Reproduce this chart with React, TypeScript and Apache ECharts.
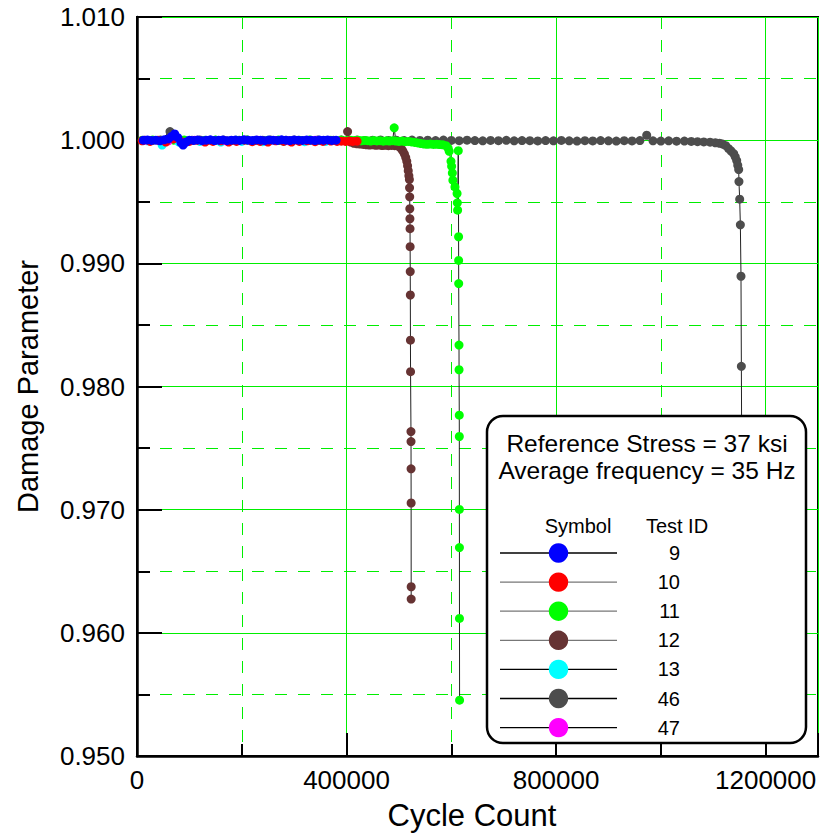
import React, { useEffect, useRef } from 'react';
import * as echarts from 'echarts';

// Axis ranges
const xMin = 0;
const xMax = 1300000;
const yMin = 0.95;
const yMax = 1.01;

// Legend content
const testIds = ['9', '10', '11', '12', '13', '46', '47'];
const testColors = ['#0000ff', '#ff0000', '#00ff00', '#663333', '#00ffff', '#4d4d4d', '#ff00ff'];
const legendLineColors = ['#000000', '#777777', '#777777', '#777777', '#000000', '#000000', '#000000'];
const noteLines = ['Reference Stress = 37 ksi', 'Average frequency = 35 Hz'];

// [cycle count, damage parameter]
const test9: [number, number][] = [
  [12000, 1.0], [20000, 1.00002], [28000, 0.99998], [36000, 1.0], [44000, 0.99995], [52000, 1.00003],
  [60000, 1.0001], [66000, 1.0003], [72000, 1.0005], [78000, 1.0002], [84000, 0.9998], [88000, 0.9996],
  [94000, 0.99985], [100000, 1.0], [108000, 0.99998], [116000, 1.00002], [124000, 0.99996], [132000, 1.0],
  [140000, 1.00003], [148000, 0.99997], [156000, 1.0], [164000, 1.00002], [172000, 0.99996], [180000, 1.0],
  [188000, 1.00001], [196000, 0.99998], [204000, 1.00003], [212000, 1.0], [220000, 0.99997], [228000, 1.00002],
  [236000, 1.0], [244000, 0.99996], [252000, 1.00002], [260000, 1.0], [268000, 0.99998], [276000, 1.00003],
  [284000, 1.0], [292000, 0.99997], [300000, 1.00002], [308000, 1.0], [316000, 0.99998], [324000, 1.00002],
  [332000, 1.0], [340000, 0.99997], [348000, 1.00001], [356000, 1.0], [364000, 1.00002], [372000, 0.99998],
  [380000, 1.0],
];

const test10: [number, number][] = [
  [10000, 0.99995], [25000, 0.9999], [40000, 1.0], [55000, 0.99985], [70000, 1.0001], [85000, 0.99988],
  [100000, 0.9999], [115000, 1.0], [130000, 0.99985], [145000, 0.9999], [160000, 0.99995], [175000, 0.99985],
  [190000, 0.9999], [205000, 1.0], [220000, 0.99988], [235000, 0.9999], [250000, 0.99985], [265000, 0.99995],
  [280000, 0.9999], [295000, 0.99985], [310000, 0.9999], [325000, 0.99995], [340000, 0.99988], [355000, 0.9999],
  [370000, 0.99993], [382000, 0.9999], [390000, 0.99992], [398000, 0.9999], [405000, 0.99993], [412000, 0.9999],
  [420000, 0.99992],
];

const test11: [number, number][] = [
  [10000, 1.0], [30000, 1.00002], [50000, 0.99998], [70000, 1.0], [90000, 1.00002], [110000, 0.99998],
  [130000, 1.0], [150000, 1.00001], [170000, 0.99998], [190000, 1.0], [210000, 1.00002], [230000, 0.99998],
  [250000, 1.0], [270000, 1.00001], [290000, 0.99998], [310000, 1.0], [330000, 1.00002], [350000, 0.99998],
  [370000, 1.0], [390000, 1.00001], [400000, 0.99998], [408000, 1.0], [415000, 0.99997], [422000, 1.0],
  [428000, 0.99995], [434000, 0.99998], [440000, 0.99996], [446000, 0.99993], [452000, 0.99997], [458000, 0.99994],
  [464000, 0.99996], [470000, 0.99992], [476000, 0.99995], [482000, 0.99993], [488000, 0.99996], [491000, 1.001],
  [494000, 0.99993], [500000, 0.9999], [506000, 0.99993], [512000, 0.99988], [518000, 0.9999], [524000, 0.99986],
  [530000, 0.99982], [536000, 0.99978], [542000, 0.99972], [548000, 0.99968], [554000, 0.99966], [560000, 0.99969],
  [566000, 0.99965], [572000, 0.99967], [578000, 0.99964], [584000, 0.99962], [590000, 0.99955], [594000, 0.99935],
  [596000, 0.99909], [599400, 0.99828], [600600, 0.99788], [602000, 0.99734], [603000, 0.99675], [607000, 0.9962],
  [611000, 0.99567], [611500, 0.99491], [612000, 0.99432], [613300, 0.99915], [613900, 0.99216], [614000, 0.99024],
  [614100, 0.98836], [614700, 0.98336], [614800, 0.98136], [615200, 0.97767], [615300, 0.97594], [615400, 0.97002],
  [615500, 0.96692], [615600, 0.96117], [615800, 0.95453],
];

const test12: [number, number][] = [
  [402000, 1.0007], [408000, 0.99985], [414000, 0.99975], [420000, 0.9997], [426000, 0.99968], [432000, 0.99965],
  [438000, 0.99962], [444000, 0.9996], [450000, 0.99962], [456000, 0.99958], [462000, 0.9996], [468000, 0.99956],
  [474000, 0.99958], [480000, 0.99955], [486000, 0.99957], [492000, 0.99955], [497000, 0.99955], [501000, 0.99945],
  [504500, 0.9993], [507500, 0.99912], [510500, 0.99888], [513000, 0.9986], [515000, 0.99828], [516500, 0.99792],
  [517800, 0.99752], [519000, 0.99712], [520000, 0.9968], [520300, 0.99613], [520600, 0.9954], [520800, 0.99443],
  [521000, 0.99362], [521200, 0.99281], [521400, 0.99135], [521600, 0.98933], [521800, 0.98743], [522000, 0.98376],
  [522200, 0.9812], [523000, 0.97634], [523100, 0.97553], [523200, 0.97332], [523300, 0.97054], [523400, 0.96374],
  [523400, 0.96274],
];

const test13: [number, number][] = [
  [20000, 0.99995], [48000, 0.9996], [80000, 0.99985], [120000, 0.9999], [160000, 0.99985], [200000, 0.9999],
  [240000, 0.99988], [280000, 0.9999], [320000, 0.99988], [360000, 0.9999],
];

const test46: [number, number][] = [
  [15000, 1.0], [30000, 0.99998], [45000, 1.00002], [63000, 1.0007], [75000, 1.0001], [90000, 0.99997],
  [105000, 1.0], [120000, 1.00002], [135000, 0.99998], [150000, 1.0], [165000, 1.00001], [180000, 0.99997],
  [195000, 1.0], [210000, 1.00002], [225000, 0.99998], [240000, 1.0], [255000, 1.00001], [270000, 0.99997],
  [285000, 1.0], [300000, 1.00002], [315000, 0.99998], [330000, 1.0], [345000, 1.00001], [360000, 0.99998],
  [375000, 1.0], [390000, 1.00002], [405000, 0.99999], [420000, 1.00001], [435000, 0.99998], [450000, 1.0],
  [465000, 1.00002], [480000, 0.99998], [495000, 1.0], [510000, 0.99997], [525000, 1.00001], [540000, 0.99998],
  [555000, 1.0], [570000, 0.99997], [585000, 1.00001], [600000, 0.99998], [615000, 0.99996], [630000, 1.0],
  [645000, 0.99997], [660000, 0.99995], [675000, 0.99998], [690000, 0.99996], [705000, 0.99999], [720000, 0.99995],
  [735000, 0.99997], [750000, 0.99996], [765000, 0.99994], [780000, 0.99997], [795000, 0.99995], [810000, 0.99998],
  [825000, 0.99995], [840000, 0.99993], [855000, 0.99996], [870000, 0.99994], [885000, 0.99997], [900000, 0.99995],
  [915000, 0.99993], [930000, 0.99996], [945000, 0.99994], [960000, 0.99997], [973000, 1.0004], [985000, 0.99995],
  [1000000, 0.99993], [1015000, 0.99995], [1030000, 0.99992], [1045000, 0.99993], [1058000, 0.9999], [1070000, 0.99988],
  [1082000, 0.99986], [1094000, 0.99984], [1104000, 0.99979], [1112000, 0.99975], [1118000, 0.99968], [1124000, 0.99955],
  [1129500, 0.99931], [1134000, 0.99912], [1139000, 0.99891], [1142000, 0.99865], [1144800, 0.99834], [1146800, 0.99797],
  [1148600, 0.99761], [1149100, 0.99664], [1150500, 0.99521], [1151800, 0.99313], [1153000, 0.98895], [1153700, 0.98164],
  [1154800, 0.97],
];

const test47: [number, number][] = [
  [15000, 1.0], [60000, 0.99995], [110000, 1.0], [170000, 0.99995], [230000, 1.0], [290000, 0.99995], [340000, 1.0],
];

// Drawing order: later series sit on top
const drawOrder = ['46', '12', '11', '13', '47', '10', '9'];
const dataById: Record<string, [number, number][]> = {
  '9': test9, '10': test10, '11': test11, '12': test12, '13': test13, '46': test46, '47': test47,
};

const FONT = '"Liberation Sans", Arial, sans-serif';
const GRID_GREEN = '#00ee00';

export default function App() {
  const ref = useRef<HTMLDivElement>(null);

  useEffect(() => {
    if (!ref.current) return;
    const chart = echarts.init(ref.current, undefined, { renderer: 'svg' });

    const grid = { left: 137, top: 17, width: 681, height: 741 };

    const series = drawOrder.map((id) => ({
      type: 'line' as const,
      name: 'Test ' + id,
      data: dataById[id],
      xAxisIndex: 0,
      yAxisIndex: 0,
      symbol: 'circle',
      symbolSize: 9,
      showSymbol: true,
      showAllSymbol: true,
      clip: true,
      itemStyle: { color: testColors[testIds.indexOf(id)] },
      lineStyle: { color: '#222222', width: 1 },
      emphasis: { disabled: true },
      silent: true,
    }));

    // Legend box drawn with graphic elements
    const boxLeft = 487;
    const boxTop = 416;
    const rowTop = 553;
    const rowStep = 29.1;
    const legendEls: any[] = [
      {
        type: 'rect',
        shape: { x: boxLeft, y: boxTop, width: 319, height: 327, r: 16 },
        style: { fill: '#ffffff', stroke: '#000000', lineWidth: 2.5 },
        z: 100,
      },
      ...noteLines.map((t, i) => ({
        type: 'text',
        x: 647,
        y: 443 + i * 27,
        style: { text: t, font: `24.5px ${FONT}`, fill: '#000', align: 'center', verticalAlign: 'middle' },
        z: 101,
      })),
      {
        type: 'text', x: 578, y: 526,
        style: { text: 'Symbol', font: `20px ${FONT}`, fill: '#000', align: 'center', verticalAlign: 'middle' },
        z: 101,
      },
      {
        type: 'text', x: 677, y: 526,
        style: { text: 'Test ID', font: `20px ${FONT}`, fill: '#000', align: 'center', verticalAlign: 'middle' },
        z: 101,
      },
    ];
    testIds.forEach((id, i) => {
      const cy = rowTop + i * rowStep;
      legendEls.push(
        {
          type: 'line',
          shape: { x1: 500, y1: cy, x2: 617, y2: cy },
          style: { stroke: legendLineColors[i], lineWidth: 1.3 },
          z: 101,
        },
        {
          type: 'circle',
          shape: { cx: 558.5, cy, r: 9.7 },
          style: { fill: testColors[i] },
          z: 102,
        },
        {
          type: 'text',
          x: 680,
          y: cy,
          style: { text: id, font: `20px ${FONT}`, fill: '#000', align: 'right', verticalAlign: 'middle' },
          z: 101,
        },
      );
    });

    chart.setOption({
      animation: false,
      backgroundColor: '#ffffff',
      grid: { ...grid, show: true, borderColor: '#000000', borderWidth: 2, backgroundColor: 'transparent' },
      xAxis: [
        {
          type: 'value',
          position: 'bottom',
          min: xMin,
          max: xMax,
          interval: 200000,
          name: 'Cycle Count',
          nameLocation: 'middle',
          nameGap: 44,
          nameTextStyle: { fontFamily: FONT, fontSize: 31, color: '#000', padding: [0, 11, 0, 0] },
          axisLine: { show: true, onZero: false, lineStyle: { color: '#000', width: 2.5 } },
          axisTick: { show: true, inside: true, length: 12, lineStyle: { color: '#000', width: 2 } },
          axisLabel: {
            fontFamily: FONT,
            fontSize: 26,
            color: '#000',
            margin: 11,
            formatter: (v: number) => (v % 400000 === 0 ? String(v) : ''),
          },
          splitLine: { show: true, lineStyle: { color: GRID_GREEN, width: 1, type: [12, 11] } },
        },
        {
          type: 'value',
          position: 'bottom',
          min: xMin,
          max: xMax,
          interval: 400000,
          axisLine: { show: false, onZero: false },
          axisTick: { show: true, inside: true, length: 23, lineStyle: { color: '#000', width: 2 } },
          axisLabel: { show: false },
          splitLine: { show: true, lineStyle: { color: GRID_GREEN, width: 1, type: 'solid' } },
        },
      ],
      yAxis: {
        type: 'value',
        min: yMin,
        max: yMax,
        interval: 0.01,
        name: 'Damage Parameter',
        nameLocation: 'middle',
        nameGap: 95,
        nameTextStyle: { fontFamily: FONT, fontSize: 29, color: '#000' },
        axisLine: { show: true, onZero: false, lineStyle: { color: '#000', width: 2.5 } },
        axisTick: { show: true, inside: true, length: 25, lineStyle: { color: '#000', width: 2 } },
        minorTick: { show: true, splitNumber: 2, length: 13, lineStyle: { color: '#000', width: 2 } },
        axisLabel: {
          fontFamily: FONT,
          fontSize: 26,
          color: '#000',
          margin: 12,
          formatter: (v: number) => v.toFixed(3),
        },
        splitLine: { show: true, lineStyle: { color: GRID_GREEN, width: 1, type: 'solid' } },
        minorSplitLine: { show: true, lineStyle: { color: GRID_GREEN, width: 1, type: [12, 11] } },
      },
      series,
      graphic: legendEls,
    });

    return () => chart.dispose();
  }, []);

  return (
    <div
      ref={ref}
      style={{ position: 'absolute', left: 0, top: 0, width: 821, height: 836, background: '#fff' }}
    />
  );
}
